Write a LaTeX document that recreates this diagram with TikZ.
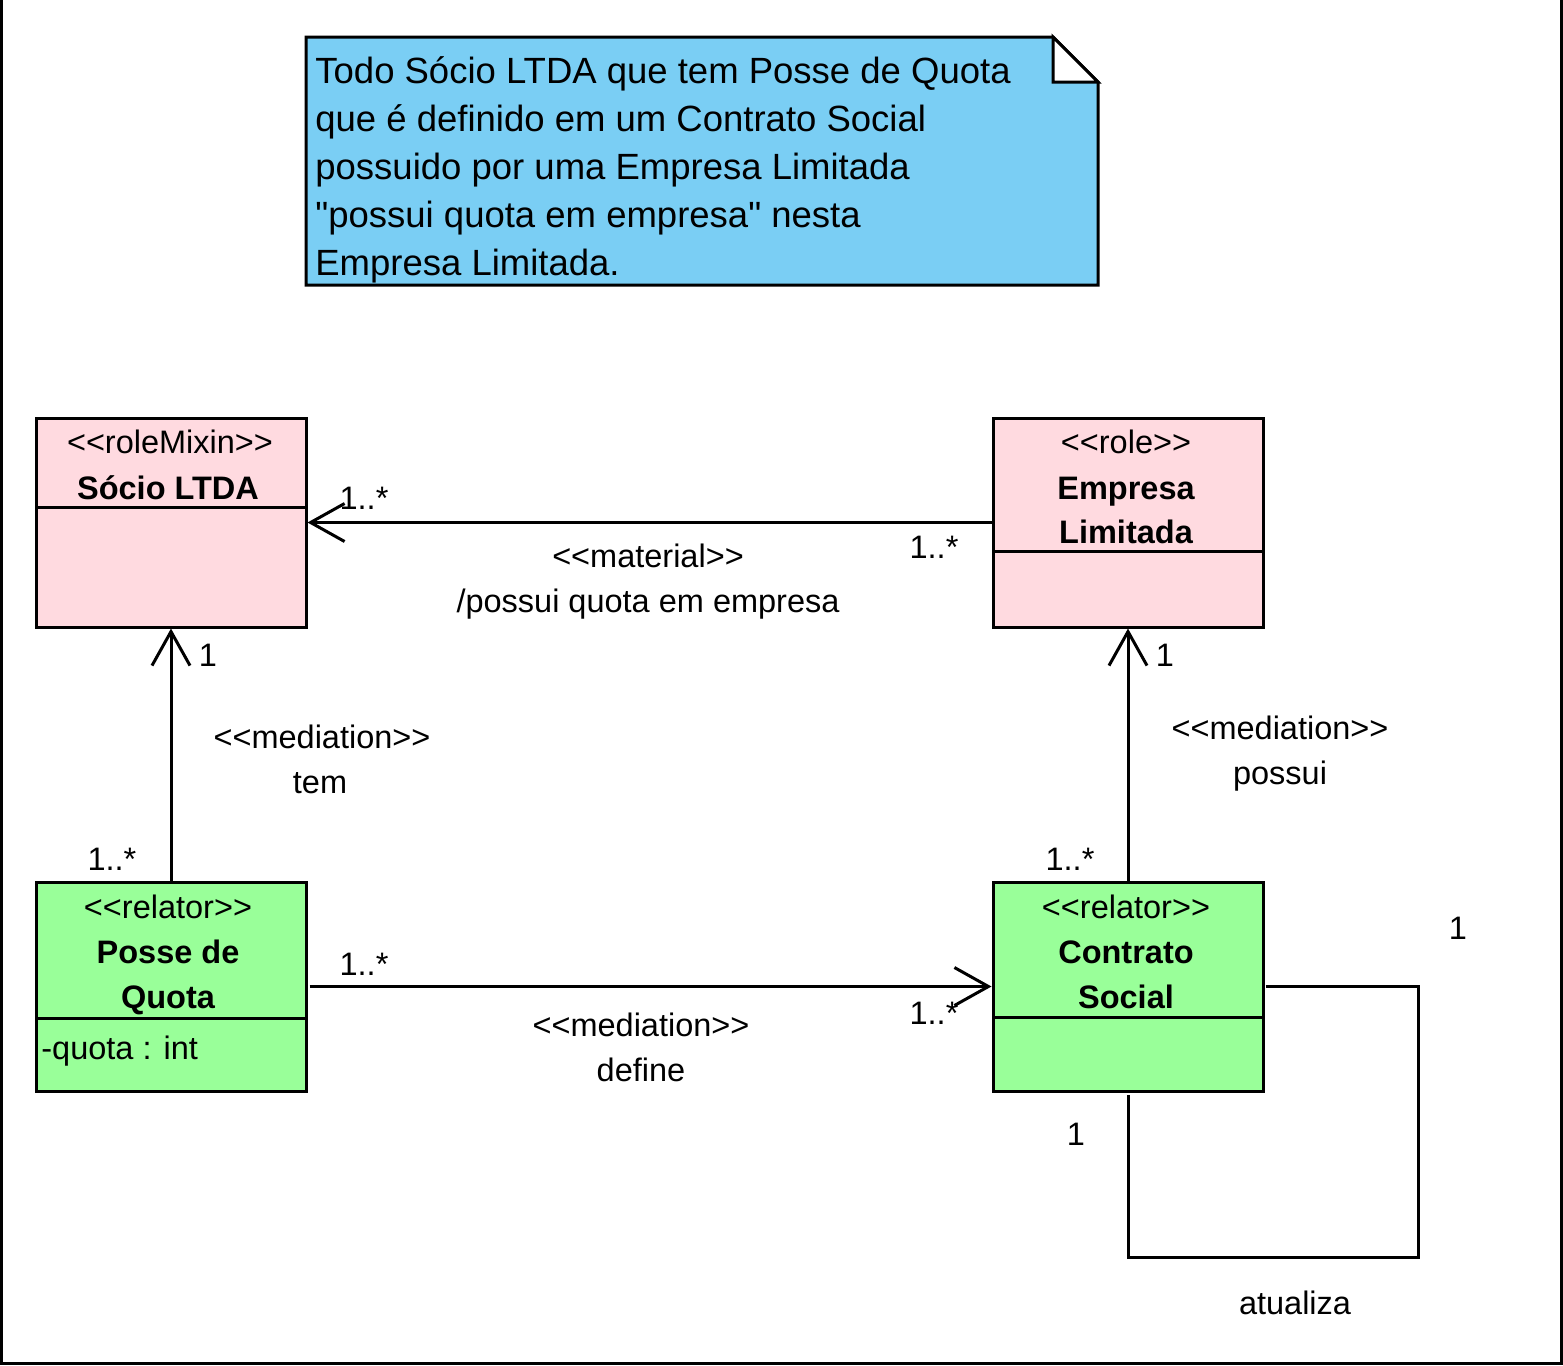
\documentclass[tikz,border=0pt]{standalone}
\usepackage{fontspec}
\setmainfont{Liberation Sans}[Ligatures=TeXOff]
\usetikzlibrary{arrows.meta, positioning}
\definecolor{rolepink}{RGB}{255,218,224}
\definecolor{relgreen}{RGB}{153,255,153}
\definecolor{noteblue}{RGB}{122,206,244}
\newcommand{\clsfont}{\fontsize{16.25pt}{20pt}\selectfont}
\newcommand{\notefont}{\fontsize{18.25pt}{24pt}\selectfont}

\begin{document}
\begin{tikzpicture}[x=0.5pt, y=-0.5pt, % 1 unit = 1 pixel of the reference
	classbox/.style={draw, line width=1.5pt, minimum width=135pt, minimum height=104.5pt, inner sep=0pt},
	lbl/.style={font=\clsfont, anchor=base, inner sep=0pt},
	assoc/.style={line width=1.5pt},
	opentip/.style={-{Straight Barb[length=17pt, width=19pt]}}
	]
	\useasboundingbox (0,0) rectangle (1563,1365);
	\draw[line width=1.5pt] (1.5,0) -- (1.5,1363.5) -- (1561.5,1363.5) -- (1561.5,0);
	
	% nota
	\filldraw[fill=noteblue, line width=1.5pt] (306,37) -- (1053,37) -- (1098,82) -- (1098,285) -- (306,285) -- cycle;
	\filldraw[fill=white, line width=1.5pt] (1053,37) -- (1053,82) -- (1098,82) -- cycle;
	\node[anchor=base west, align=left, font=\notefont, inner sep=0pt] (nota) at (315,275)
	{Todo Sócio LTDA que tem Posse de Quota\\que é definido em um Contrato Social\\possuido por uma Empresa Limitada\\"possui quota em empresa" nesta\\Empresa Limitada.};
	
	% classes
	\node[classbox, fill=rolepink] (socio) at (171,522.5) {};
	\node[classbox, fill=rolepink] (empresa) at (1128,522.5) {};
	\node[classbox, fill=relgreen] (posse) at (171,986.5) {};
	\node[classbox, fill=relgreen] (contrato) at (1128,986.5) {};
	
	\draw[line width=1.5pt] (36,507) -- (306,507);
	\draw[line width=1.5pt] (993,551) -- (1263,551);
	\draw[line width=1.5pt] (36,1018) -- (306,1018);
	\draw[line width=1.5pt] (993,1017) -- (1263,1017);
	
	\node[lbl] (socio-st) at (170,453) {<<roleMixin>>};
	\node[lbl] (socio-nm) at (168,499) {\bfseries Sócio LTDA};
	\node[lbl] (empresa-st) at (1126,453) {<<role>>};
	\node[lbl] (empresa-nm1) at (1126,499) {\bfseries Empresa};
	\node[lbl] (empresa-nm2) at (1126,543) {\bfseries Limitada};
	\node[lbl] (posse-st) at (168,918) {<<relator>>};
	\node[lbl] (posse-nm1) at (168,963) {\bfseries Posse de};
	\node[lbl] (posse-nm2) at (168,1008) {\bfseries Quota};
	\node[lbl, anchor=base west] (posse-at) at (41,1059) {-quota : int};
	\node[lbl] (contrato-st) at (1126,918) {<<relator>>};
	\node[lbl] (contrato-nm1) at (1126,963) {\bfseries Contrato};
	\node[lbl] (contrato-nm2) at (1126,1008) {\bfseries Social};
	
	% associacoes
	\draw[assoc, opentip] (empresa.west) -- (socio.east);
	\draw[assoc, opentip] (posse.north) -- (socio.south);
	\draw[assoc, opentip] (contrato.north) -- (empresa.south);
	\draw[assoc, opentip, shorten <=1pt] (posse.east) -- (contrato.west);
	\coordinate (volta) at (1418,1257);
	\draw[assoc, shorten <=0.5pt, shorten >=1pt] (contrato.east) -| (volta) -| (contrato.south);
	
	\node[lbl] (m1) at (364,509) {1..*};
	\node[lbl] (m2) at (934,558) {1..*};
	\node[lbl] (material-st) at (648,567) {<<material>>};
	\node[lbl] (material-nm) at (648,612) {/possui quota em empresa};
	
	\node[lbl] (m3) at (208,666) {1};
	\node[lbl] (m4) at (112,870) {1..*};
	\node[lbl] (tem-st) at (322,748) {<<mediation>>};
	\node[lbl] (tem-nm) at (320,793) {tem};
	
	\node[lbl] (m5) at (1165,666) {1};
	\node[lbl] (m6) at (1070,870) {1..*};
	\node[lbl] (possui-st) at (1280,739) {<<mediation>>};
	\node[lbl] (possui-nm) at (1280,784) {possui};
	
	\node[lbl] (m7) at (364,975) {1..*};
	\node[lbl] (m8) at (934,1024) {1..*};
	\node[lbl] (define-st) at (641,1036) {<<mediation>>};
	\node[lbl] (define-nm) at (641,1081) {define};
	
	\node[lbl] (m9) at (1458,939) {1};
	\node[lbl] (m10) at (1076,1145) {1};
	\node[lbl] (atualiza-nm) at (1295,1314) {atualiza};
\end{tikzpicture}
\end{document}
